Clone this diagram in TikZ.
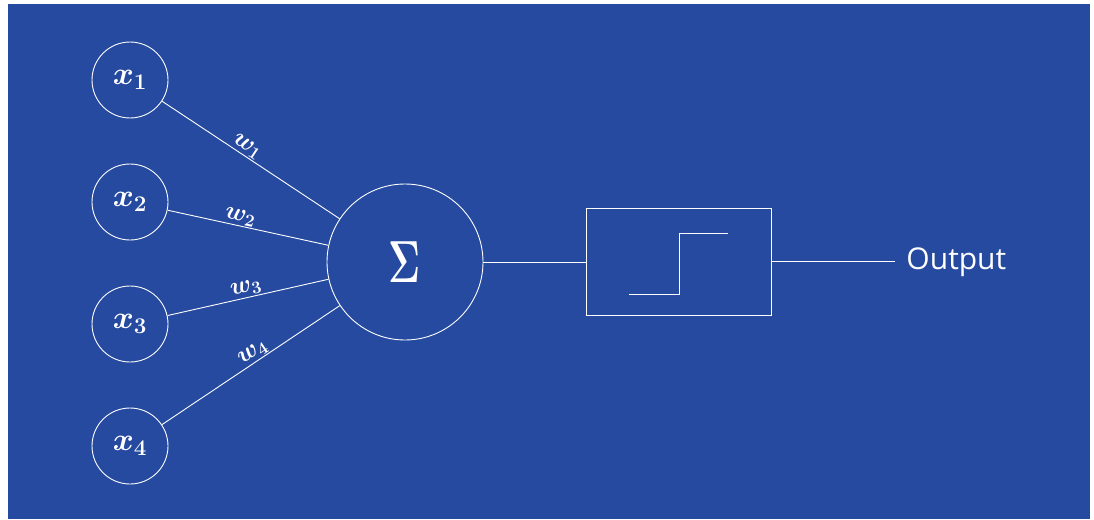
\RequirePackage{fix-cm}
\documentclass[tikz,border=0pt]{standalone}
\usepackage{amsmath}
\usepackage{fontspec}
\newfontfamily\outfont{Open Sans}
\usetikzlibrary{positioning}
\definecolor{bg}{RGB}{37,74,160}

\tikzset{
  input/.style={circle, draw=white, minimum size=76pt, inner sep=0pt, text=white,
    font=\fontsize{32}{34}\selectfont},
  weight/.style={sloped, above, inner sep=1pt, text=white, font=\fontsize{25}{27}\selectfont},
}

\begin{document}
\begin{tikzpicture}[x=1pt, y=-1pt, line width=0.9pt, white]
\useasboundingbox (0,0) rectangle (1094,519);
\fill[bg] (8,4) rectangle (1090,519);
% inputs
\node[input] (x1) at (130,80) {$\boldsymbol{x_1}$};
\node[input] (x2) at (130,202) {$\boldsymbol{x_2}$};
\node[input] (x3) at (130,324) {$\boldsymbol{x_3}$};
\node[input] (x4) at (130,446) {$\boldsymbol{x_4}$};
% sum
\node[circle, draw=white, minimum size=156pt, inner sep=0pt, text=white,
  font=\fontsize{44}{46}\selectfont] (sum) at (405,262) {\scalebox{0.9}[1.35]{$\boldsymbol{\Sigma}$}};
\draw (x1) -- (sum) node[weight, pos=0.45] {$\boldsymbol{w_1}$};
\draw (x2) -- (sum) node[weight, pos=0.44] {$\boldsymbol{w_2}$};
\draw (x3) -- (sum) node[weight, pos=0.5] {$\boldsymbol{w_3}$};
\draw (x4) -- (sum) node[weight, pos=0.54] {$\boldsymbol{w_4}$};
% step function
\node[draw=white, minimum width=185pt, minimum height=107pt, inner sep=0pt] (act) at (678.5,261.5) {};
\draw (629,294) -- (679,294) -- (679,233) -- (728,233);
\draw (sum) -- (sum -| act.west);
% output
\node[anchor=west, inner sep=0pt, inner xsep=11pt, text=white,
  font=\outfont\fontsize{30}{32}\selectfont] (out) at (895,262) {Output};
\draw (act.east) -- (act.east -| out.west);
\end{tikzpicture}
\end{document}
